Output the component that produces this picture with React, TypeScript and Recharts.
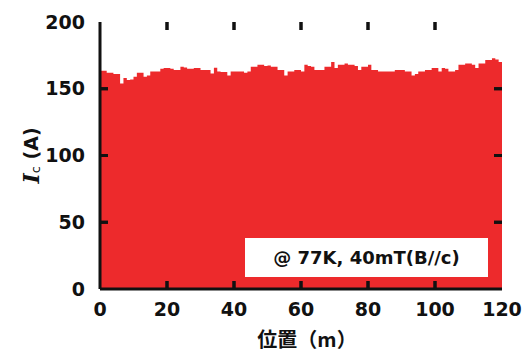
import React from 'react';
import { ComposedChart, Area, Scatter, XAxis, YAxis, Label } from 'recharts';

const positions: number[] = Array.from({ length: 121 }, (_, i) => i);
const icValues: number[] = [
  163.5, 163.5, 162, 162, 161, 161, 154, 158, 156.5, 157,
  159, 162, 162, 159, 160, 163, 163, 163, 165, 165.5,
  165.5, 165, 164, 164, 166.5, 166, 165, 165, 165.5, 165.5,
  164, 164, 164, 161.5, 165.8, 163, 162.5, 162.5, 160, 163,
  163, 163, 163, 162, 163, 166.5, 166.5, 168, 168, 167,
  167.5, 166.5, 166.5, 164, 164, 160, 163, 163, 164, 164,
  163, 168, 167, 166.5, 164, 164, 164, 166.5, 166.5, 170,
  165.5, 168, 168, 169, 168, 168, 167, 164, 166.5, 166.5,
  168, 164, 164, 163, 163, 163, 163, 163, 164, 164,
  164, 163, 163, 160, 161, 163, 163, 164, 164, 165.5,
  165.5, 163, 165.5, 165, 163, 163, 164, 168, 168, 169,
  169, 168, 165.5, 169, 169, 171.5, 171.5, 172.8, 172, 170,
  170,
];
const xTicks: number[] = [0, 20, 40, 60, 80, 100, 120];
const yTicks: number[] = [0, 50, 100, 150, 200];
const xInnerTicks: number[] = [20, 40, 60, 80, 100];
const yInnerTicks: number[] = [50, 100, 150];
const legendText = '@ 77K, 40mT(B//c)';
const xLabel = '位置（m）';

const X_MAX = 120;
const Y_MAX = 200;
const TICK_LEN = 8;

const data = positions.map((p, i) => ({ pos: p, ic: icValues[i] }));
const bottomTickData = xInnerTicks.map((t) => ({ pos: t, v: 0 }));
const topTickData = xInnerTicks.map((t) => ({ pos: t, v: Y_MAX }));
const leftTickData = yInnerTicks.map((t) => ({ pos: 0, v: t }));
const rightTickData = yInnerTicks.map((t) => ({ pos: X_MAX, v: t }));

const tickFont = { fontFamily: 'DejaVu Sans', fontWeight: 'bold', fontSize: 19, fill: '#111' };
const frameLine = { stroke: '#111', strokeWidth: 3 };

const makeTickShape = (dx: number, dy: number) => (props: any) => {
  const { cx, cy } = props;
  if (typeof cx !== 'number' || typeof cy !== 'number') return <g />;
  return <line x1={cx} y1={cy} x2={cx + dx} y2={cy + dy} stroke="#111" strokeWidth={3} />;
};
const BottomShape = makeTickShape(0, -TICK_LEN);
const TopShape = makeTickShape(0, TICK_LEN);
const LeftShape = makeTickShape(TICK_LEN, 0);
const RightShape = makeTickShape(-TICK_LEN, 0);

// Draws the inward frame ticks from the Area's own scaled points (rendered above the fill).
const TickDots = (props: any) => {
  const { index, points } = props;
  if (index !== 0 || !Array.isArray(points) || points.length < 2) return <g key={`d${index}`} />;
  const valid = points.filter((p: any) => p && p.payload && typeof p.y === 'number' && typeof p.x === 'number');
  if (valid.length < 2) return <g key="d0" />;
  const pA = valid[0];
  const pB = valid.find((p: any) => p.payload.ic !== pA.payload.ic);
  if (!pB) return <g key="d0" />;
  const b = (pB.y - pA.y) / (pB.payload.ic - pA.payload.ic);
  const a = pA.y - b * pA.payload.ic;
  const yOf = (v: number) => a + b * v;
  const xOf = (pos: number) => {
    const p = valid.find((q: any) => q.payload.pos === pos);
    return p ? p.x : NaN;
  };
  const lines: React.ReactNode[] = [];
  xInnerTicks.forEach((t) => {
    const x = xOf(t);
    lines.push(<line key={`b${t}`} x1={x} x2={x} y1={yOf(0)} y2={yOf(0) - TICK_LEN} stroke="#111" strokeWidth={3} />);
    lines.push(<line key={`t${t}`} x1={x} x2={x} y1={yOf(Y_MAX)} y2={yOf(Y_MAX) + TICK_LEN} stroke="#111" strokeWidth={3} />);
  });
  yInnerTicks.forEach((t) => {
    const y = yOf(t);
    const xl = xOf(0);
    const xr = xOf(X_MAX);
    lines.push(<line key={`l${t}`} x1={xl} x2={xl + TICK_LEN} y1={y} y2={y} stroke="#111" strokeWidth={3} />);
    lines.push(<line key={`r${t}`} x1={xr} x2={xr - TICK_LEN} y1={y} y2={y} stroke="#111" strokeWidth={3} />);
  });
  return <g key="d0">{lines}</g>;
};

const YLabel = (props: any) => {
  const vb = props.viewBox || {};
  const cx = vb.x - 9;
  const cy = vb.y + vb.height / 2;
  return (
    <text
      x={cx}
      y={cy}
      transform={`rotate(-90 ${cx} ${cy})`}
      textAnchor="middle"
      dominantBaseline="central"
      fill="#111"
      style={{ fontFamily: 'DejaVu Sans', fontWeight: 'bold', fontSize: 19 }}
    >
      <tspan style={{ fontFamily: 'DejaVu Serif', fontStyle: 'italic', fontWeight: 'bold', fontSize: 22 }}>I</tspan>
      <tspan dy={4} style={{ fontSize: 13, fontWeight: 'normal' }}>c</tspan>
      <tspan dy={-4}> (A)</tspan>
    </text>
  );
};

export default function App() {
  return (
    <div style={{ position: 'absolute', left: 0, top: 0, width: 524, height: 353, background: '#fff' }}>
      <ComposedChart
        width={524}
        height={353}
        data={data}
        margin={{ top: 22, right: 22, bottom: 34, left: 40 }}
      >
        <XAxis
          dataKey="pos"
          type="number"
          domain={[0, X_MAX]}
          ticks={xTicks}
          interval={0}
          height={30}
          tickSize={0}
          tickMargin={14}
          axisLine={frameLine}
          tickLine={false}
          tick={tickFont}
        />
        <XAxis
          xAxisId="top"
          orientation="top"
          dataKey="pos"
          type="number"
          domain={[0, X_MAX]}
          ticks={xTicks}
          height={0}
          tickSize={0}
          axisLine={frameLine}
          tickLine={false}
          tick={false}
        />
        <YAxis
          type="number"
          domain={[0, Y_MAX]}
          ticks={yTicks}
          interval={0}
          width={60}
          tickSize={0}
          tickMargin={15}
          axisLine={frameLine}
          tickLine={false}
          tick={tickFont}
        >
          <Label content={YLabel} />
        </YAxis>
        <YAxis
          yAxisId="right"
          orientation="right"
          type="number"
          domain={[0, Y_MAX]}
          ticks={yTicks}
          width={0}
          tickSize={0}
          axisLine={frameLine}
          tickLine={false}
          tick={false}
        />
        <Area
          type="stepAfter"
          dataKey="ic"
          stroke="none"
          fill="#ED2A2C"
          fillOpacity={1}
          isAnimationActive={false}
          dot={TickDots}
          activeDot={false}
          {...({ zIndex: -20 } as any)}
        />
        <Scatter data={bottomTickData} dataKey="v" shape={BottomShape} isAnimationActive={false} {...({ zIndex: 5000 } as any)} />
        <Scatter data={topTickData} dataKey="v" shape={TopShape} isAnimationActive={false} {...({ zIndex: 5000 } as any)} />
        <Scatter data={leftTickData} dataKey="v" shape={LeftShape} isAnimationActive={false} {...({ zIndex: 5000 } as any)} />
        <Scatter data={rightTickData} dataKey="v" shape={RightShape} isAnimationActive={false} {...({ zIndex: 5000 } as any)} />
      </ComposedChart>
      <div
        style={{
          position: 'absolute',
          left: 245,
          top: 238,
          width: 243,
          height: 39,
          zIndex: 20,
          background: '#fff',
          display: 'flex',
          alignItems: 'center',
          justifyContent: 'center',
          fontFamily: 'DejaVu Sans',
          fontWeight: 'bold',
          fontSize: 18,
          color: '#111',
        }}
      >
        {legendText}
      </div>
      <div
        style={{
          position: 'absolute',
          left: 0,
          top: 328,
          width: 614,
          zIndex: 20,
          textAlign: 'center',
          fontFamily: '"Noto Sans CJK JP", "DejaVu Sans"',
          fontWeight: 'bold',
          fontSize: 20,
          lineHeight: '22px',
          color: '#111',
          whiteSpace: 'nowrap',
        }}
      >
        {xLabel}
      </div>
    </div>
  );
}
